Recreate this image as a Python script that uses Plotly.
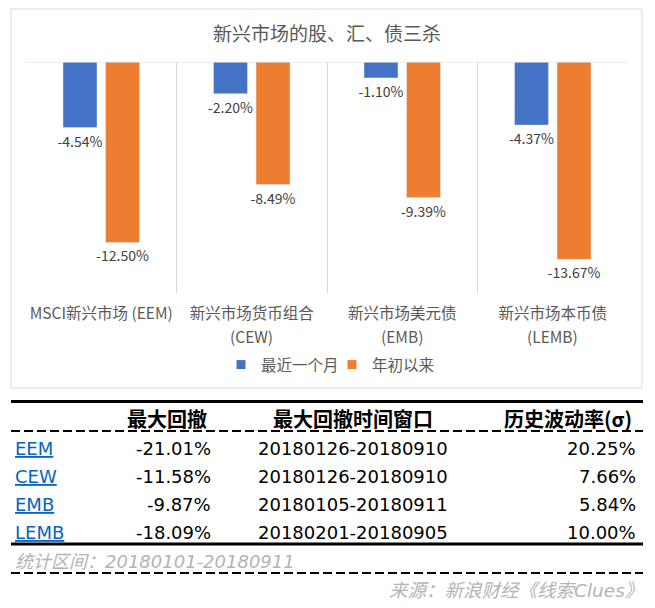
import plotly.graph_objects as go

# chart data
categories = ['MSCI新兴市场 (EEM)', '新兴市场货币组合', '新兴市场美元债', '新兴市场本币债']
category_codes = ['', '(CEW)', '(EMB)', '(LEMB)']
series_names = ['最近一个月', '年初以来']
last_month = [-4.54, -2.20, -1.10, -4.37]
ytd = [-12.50, -8.49, -9.39, -13.67]

# table data
table_header = ['最大回撤', '最大回撤时间窗口', '历史波动率(σ)']
tickers = ['EEM', 'CEW', 'EMB', 'LEMB']
max_drawdown = [-21.01, -11.58, -9.87, -18.09]
drawdown_window = ['20180126-20180910', '20180126-20180910', '20180105-20180911', '20180201-20180905']
volatility = [20.25, 7.66, 5.84, 10.00]
footnote = '统计区间：20180101-20180911'
source = '来源：新浪财经《线索Clues》'

W, H = 655, 608
CJK = 'Noto Sans CJK SC'
NUM = 'DejaVu Sans, Noto Sans CJK SC'
BLUE, ORANGE = '#4472C4', '#ED7D31'


def px(x):
    return x / W


def py(y):
    return 1 - y / H


fig = go.Figure()
for name, vals, color in [(series_names[0], last_month, BLUE), (series_names[1], ytd, ORANGE)]:
    fig.add_trace(go.Bar(
        x=categories, y=vals, name=name, marker_color=color,
        texttemplate='%{y:.2f}%', textposition='outside', cliponaxis=False,
        constraintext='none',
        textfont=dict(family=CJK, size=14, color='#404040'),
        showlegend=False,
    ))
    # legend key with a small square
    fig.add_trace(go.Scatter(
        x=[None], y=[None], mode='markers', name=name,
        marker=dict(symbol='square', size=9, color=color),
    ))

shapes = [
    # chart frame
    dict(type='rect', xref='paper', yref='paper', x0=px(11), x1=px(642), y0=py(9), y1=py(388),
         line=dict(color='#d9d9d9', width=1), layer='below'),
    # zero line at top
    dict(type='line', xref='x domain', yref='y', x0=0, x1=1, y0=0, y1=0,
         line=dict(color='#d9d9d9', width=1)),
    # table rules
    dict(type='line', xref='paper', yref='paper', x0=px(11), x1=px(643), y0=py(401.5), y1=py(401.5),
         line=dict(color='black', width=3)),
    dict(type='line', xref='paper', yref='paper', x0=px(11), x1=px(643), y0=py(431), y1=py(431),
         line=dict(color='black', width=2, dash='9px,4px')),
    dict(type='line', xref='paper', yref='paper', x0=px(11), x1=px(643), y0=py(544), y1=py(544),
         line=dict(color='black', width=3)),
    dict(type='line', xref='paper', yref='paper', x0=px(11), x1=px(643), y0=py(573), y1=py(573),
         line=dict(color='black', width=2, dash='9px,4px')),
]

annotations = [
    dict(text='新兴市场的股、汇、债三杀', x=px(327), y=py(33), xref='paper', yref='paper',
         showarrow=False, xanchor='center', yanchor='middle',
         font=dict(family=CJK, size=19, color='#595959')),
]

# second line of the category labels
for cat, code in zip(categories, category_codes):
    if code:
        annotations.append(dict(text=code, x=cat, y=py(336), xref='x', yref='paper',
                                showarrow=False, xanchor='center', yanchor='middle',
                                font=dict(family=CJK, size=15.5, color='#595959')))

# table header
header_pos = [(209, 'right'), (353, 'center'), (634, 'right')]
for text, (x, anchor) in zip(table_header, header_pos):
    annotations.append(dict(text='<b>' + text + '</b>', x=px(x), y=py(418), xref='paper', yref='paper',
                            showarrow=False, xanchor=anchor, yanchor='middle',
                            font=dict(family=CJK, size=20, color='black')))

# table rows
for i, t in enumerate(tickers):
    y = py(448 + 28 * i)
    cells = [
        ('<u>' + t + '</u>', 13, 'left', '#0563C1'),
        (f'{max_drawdown[i]:.2f}%', 213, 'right', 'black'),
        (drawdown_window[i], 353, 'center', 'black'),
        (f'{volatility[i]:.2f}%', 638, 'right', 'black'),
    ]
    for text, x, anchor, color in cells:
        annotations.append(dict(text=text, x=px(x), y=y, xref='paper', yref='paper',
                                showarrow=False, xanchor=anchor, yanchor='middle',
                                font=dict(family=NUM, size=18, color=color)))

annotations.append(dict(text='<i>' + footnote + '</i>', x=px(13), y=py(561), xref='paper', yref='paper',
                        showarrow=False, xanchor='left', yanchor='middle',
                        font=dict(family=NUM, size=18, color='#b4b4b4')))
annotations.append(dict(text='<i>' + source + '</i>', x=px(645), y=py(590), xref='paper', yref='paper',
                        showarrow=False, xanchor='right', yanchor='middle',
                        font=dict(family=NUM, size=18.5, color='#b4b4b4')))

fig.update_layout(
    width=W, height=H,
    margin=dict(l=0, r=0, t=0, b=0),
    paper_bgcolor='white', plot_bgcolor='white',
    barmode='group', bargap=0.435, bargroupgap=0.2,
    xaxis=dict(domain=[px(26), px(628)], tickson='boundaries', showgrid=True, gridcolor='#d9d9d9',
               gridwidth=1, ticks='', showline=False, zeroline=False, ticklabelstandoff=9,
               tickangle=0, tickfont=dict(family=CJK, size=15.5, color='#595959')),
    yaxis=dict(domain=[py(293), py(62)], range=[-16, 0], showgrid=False, zeroline=False,
               showticklabels=False, ticks=''),
    legend=dict(orientation='h', x=px(221), xanchor='left', y=py(365), yanchor='middle',
                itemwidth=30, entrywidth=66, font=dict(family=CJK, size=15.5, color='#595959'),
                bgcolor='rgba(0,0,0,0)'),
    shapes=shapes,
    annotations=annotations,
)

# the page body has a default 8px margin; drop it so the figure sits at the corner
fig.write_html('out.html', config={'displayModeBar': False},
               post_script="document.body.style.margin='0';")
